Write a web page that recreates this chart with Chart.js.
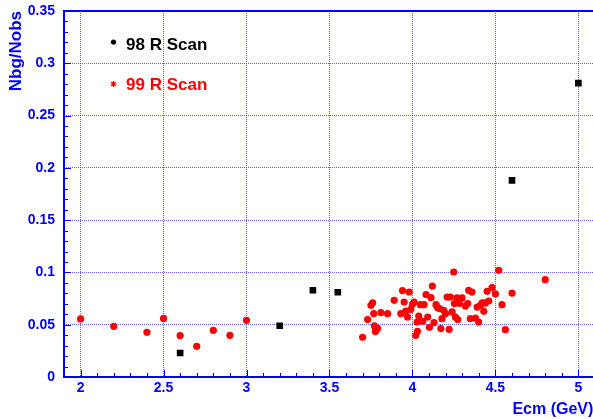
<!DOCTYPE html>
<html>
<head>
<meta charset="utf-8">
<script src="https://cdn.jsdelivr.net/npm/chart.js@4/dist/chart.umd.min.js"></script>
<style>
  html, body { margin: 0; padding: 0; background: #fff; overflow: hidden; }
  #wrap { width: 598px; height: 419px; position: relative; }
</style>
</head>
<body>
<div id="wrap"><canvas id="chart"></canvas></div>
<script>
// --- data ---
const scan98Ecm   = [2.6, 3.2, 3.4, 3.55, 4.6, 5.0];
const scan98Ratio = [0.023, 0.049, 0.083, 0.081, 0.188, 0.281];

const scan99Ecm = [2.0, 2.2, 2.4, 2.5, 2.6, 2.7, 2.8, 2.9, 3.0,
  3.70, 3.73, 3.75, 3.76, 3.767, 3.771, 3.777, 3.79, 3.781, 3.81,
  3.85, 3.89, 3.93, 3.94, 3.95, 3.96, 3.97, 3.98, 3.99, 4.00,
  4.01, 4.02, 4.03, 4.028, 4.038, 4.048, 4.062, 4.07, 4.082, 4.092,
  4.102, 4.112, 4.12, 4.13, 4.142, 4.152, 4.163, 4.171, 4.178, 4.188,
  4.199, 4.209, 4.221, 4.229, 4.239, 4.249, 4.253, 4.259, 4.269, 4.273,
  4.283, 4.299, 4.319, 4.333, 4.339, 4.349, 4.359, 4.38, 4.39, 4.399,
  4.41, 4.42, 4.43, 4.44, 4.45, 4.46, 4.48, 4.50, 4.52, 4.54,
  4.56, 4.60, 4.80];
const scan99Ratio = [0.0555, 0.0485, 0.0427, 0.056, 0.0396, 0.0293, 0.0446, 0.0399, 0.0542,
  0.038, 0.0549, 0.0685, 0.071, 0.0606, 0.0488, 0.0434, 0.0466, 0.045, 0.0616,
  0.0606, 0.0733, 0.0606, 0.0826, 0.0717, 0.0631, 0.0574, 0.0813, 0.0647, 0.0695,
  0.0717, 0.0399, 0.0437, 0.0526, 0.0583, 0.0692, 0.0532, 0.0692, 0.0788, 0.0574,
  0.0475, 0.0759, 0.087, 0.052, 0.0692, 0.0663, 0.0654, 0.0463, 0.0558, 0.0638,
  0.0606, 0.0765, 0.0456, 0.0765, 0.0622, 0.1004, 0.0702, 0.0574, 0.0756, 0.0549,
  0.0702, 0.0756, 0.0679, 0.0702, 0.0829, 0.0558, 0.0813, 0.0564, 0.0669, 0.0526,
  0.0685, 0.0708, 0.0628, 0.0708, 0.0819, 0.0727, 0.0855, 0.0794, 0.102, 0.0692,
  0.0453, 0.0803, 0.0931];

const xTicks = [2, 2.5, 3, 3.5, 4, 4.5, 5];
const yTicks = [0, 0.05, 0.1, 0.15, 0.2, 0.25, 0.3, 0.35];
const seriesNames = ['98 R Scan', '99 R Scan'];

const BLUE = '#0000ff';
const FONT = '"Liberation Sans", Arial, sans-serif';

function toPoints(xs, ys) {
  return xs.map((x, i) => ({ x: x, y: ys[i] }));
}

// axis frame + minor ticks, drawn like the original
const framePlugin = {
  id: 'frame',
  afterDatasetsDraw(chart) {
    const { ctx, chartArea: a, scales: { x, y } } = chart;
    ctx.save();
    ctx.strokeStyle = BLUE;
    ctx.lineWidth = 1;
    ctx.beginPath();
    for (let i = 0; i <= 35; i++) {
      const py = Math.round(y.getPixelForValue(i / 100)) + 0.5;
      const len = i % 5 ? 4 : 7;
      ctx.moveTo(a.left, py);
      ctx.lineTo(a.left + len, py);
    }
    for (let i = 20; i <= 50; i++) {
      const px = Math.round(x.getPixelForValue(i / 10)) + 0.5;
      const len = i % 5 ? 4 : 7;
      ctx.moveTo(px, a.bottom);
      ctx.lineTo(px, a.bottom - len);
    }
    ctx.stroke();
    ctx.lineWidth = 2;
    ctx.beginPath();
    ctx.moveTo(a.right, a.top);
    ctx.lineTo(a.left, a.top);
    ctx.lineTo(a.left, a.bottom);
    ctx.lineTo(a.right, a.bottom);
    ctx.stroke();
    ctx.restore();
  }
};

// legend sits inside the plot, top left
const legendPlugin = {
  id: 'innerLegend',
  afterDraw(chart) {
    const { ctx } = chart;
    const ds = chart.data.datasets;
    ctx.save();
    ctx.font = 'bold 17px ' + FONT;
    ctx.textBaseline = 'alphabetic';
    ctx.textAlign = 'left';

    // 98: small black dot
    ctx.fillStyle = '#000';
    ctx.beginPath();
    ctx.arc(113.5, 42, 2.6, 0, Math.PI * 2);
    ctx.fill();
    ctx.fillText(ds[0].label, 126, 50);

    // 99: small red star
    ctx.strokeStyle = '#ff0000';
    ctx.lineWidth = 1.2;
    ctx.beginPath();
    const cx = 113.5, cy = 84;
    for (let k = 0; k < 4; k++) {
      const ang = k * Math.PI / 4;
      ctx.moveTo(cx - 3 * Math.cos(ang), cy - 3 * Math.sin(ang));
      ctx.lineTo(cx + 3 * Math.cos(ang), cy + 3 * Math.sin(ang));
    }
    ctx.stroke();
    ctx.fillStyle = '#ff0000';
    ctx.fillText(ds[1].label, 126, 89.5);
    ctx.restore();
  }
};

new Chart(document.getElementById('chart'), {
  type: 'scatter',
  data: {
    datasets: [{
      label: seriesNames[0],
      data: toPoints(scan98Ecm, scan98Ratio),
      pointStyle: 'rect',
      pointRadius: 4.7,
      backgroundColor: '#000',
      borderColor: '#000',
      borderWidth: 0
    }, {
      label: seriesNames[1],
      data: toPoints(scan99Ecm, scan99Ratio),
      pointStyle: 'circle',
      pointRadius: 3.6,
      backgroundColor: '#ff0000',
      borderColor: '#ff0000',
      borderWidth: 0
    }]
  },
  options: {
    responsive: true,
    maintainAspectRatio: false,
    animation: false,
    layout: { padding: { top: 11, right: 0, left: 0, bottom: 0 } },
    plugins: {
      legend: { display: false },
      tooltip: { enabled: false }
    },
    scales: {
      x: {
        type: 'linear',
        min: 1.9,
        max: 5.09,
        afterBuildTicks: (s) => { s.ticks = xTicks.map(v => ({ value: v })); },
        afterFit: (s) => { s.height = 42; s.paddingLeft = 0; s.paddingRight = 0; },
        grid: { color: 'rgba(40,40,255,0.75)', lineWidth: 1, drawTicks: false },
        border: { display: false, dash: [1, 1] },
        ticks: {
          color: BLUE,
          padding: 3,
          maxRotation: 0,
          font: { family: FONT, size: 14, weight: 'bold' },
          callback: (v) => String(+v.toFixed(1))
        },
        title: {
          display: true,
          text: 'Ecm (GeV)',
          align: 'end',
          color: BLUE,
          padding: { top: 0, bottom: 0 },
          font: { family: FONT, size: 16, weight: 'bold' }
        }
      },
      y: {
        type: 'linear',
        min: 0,
        max: 0.35,
        afterBuildTicks: (s) => { s.ticks = yTicks.map(v => ({ value: v })); },
        afterFit: (s) => { s.width = 64; s.paddingTop = 0; s.paddingBottom = 0; },
        grid: { color: 'rgba(40,40,255,0.75)', lineWidth: 1, drawTicks: false },
        border: { display: false, dash: [1, 1] },
        ticks: {
          color: BLUE,
          padding: 9,
          font: { family: FONT, size: 14, weight: 'bold' },
          callback: (v) => String(+v.toFixed(2))
        },
        title: {
          display: true,
          text: 'Nbg/Nobs',
          align: 'end',
          color: BLUE,
          padding: { top: 6, bottom: 0 },
          font: { family: FONT, size: 17, weight: 'bold' }
        }
      }
    }
  },
  plugins: [framePlugin, legendPlugin]
});
</script>
</body>
</html>
